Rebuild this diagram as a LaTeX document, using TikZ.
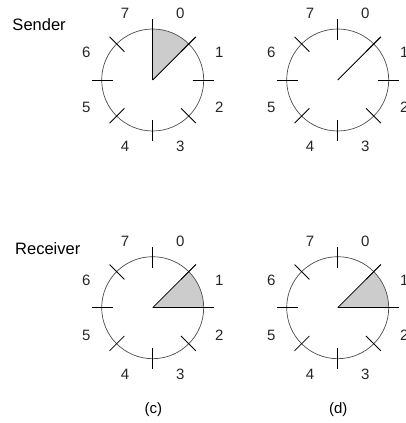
\documentclass[tikz,border=0pt]{standalone}
\usepackage{fontspec}
\setmainfont{Liberation Sans}
\usetikzlibrary{positioning}

\tikzset{
  dial/.style={draw=black!70, line width=0.7pt},
  dialtick/.style={draw=black, line width=0.8pt},
  pointer/.style={draw=black, line width=0.8pt},
  window/.style={fill=black!20},
  seqnum/.style={font=\fontsize{15}{17}\selectfont, text=black!85},
  rowlabel/.style={font=\fontsize{16.5}{19}\selectfont, anchor=west, inner sep=0pt},
  caption/.style={font=\fontsize{15}{17}\selectfont},
}

\begin{document}
\begin{tikzpicture}[x=1pt,y=1pt]
    \useasboundingbox (0,0) rectangle (406,423);
    % centres of the four dials
    \coordinate (a) at (152.7,343);
    \coordinate (b) at (337.7,343);
    \coordinate (c) at (152.7,115.3);
    \coordinate (d) at (337.7,115.3);
    % shaded windows
    \fill[window] (a) -- ++(90:51) arc (90:45:51) -- cycle;
    \fill[window] (c) -- ++(45:51) arc (45:0:51) -- cycle;
    \fill[window] (d) -- ++(45:51) arc (45:0:51) -- cycle;
    \foreach \n in {a,b,c,d} {
        \begin{scope}[shift={(\n)}]
            \draw[dial] (0,0) circle (51);
            \foreach \k in {0,...,7} {
                \draw[dialtick] (90-45*\k:40) -- (90-45*\k:61);
                \node[seqnum] (\n-\k) at (67.5-45*\k:72) {\k};
            }
        \end{scope}
    }
    % pointers
    \draw[pointer] (a) -- ++(90:61);
    \draw[pointer] (a) -- ++(45:61);
    \draw[pointer] (b) -- ++(45:61);
    \draw[pointer] (c) -- ++(45:61);
    \draw[pointer] (c) -- ++(0:61);
    \draw[pointer] (d) -- ++(45:61);
    \draw[pointer] (d) -- ++(0:61);
    % labels
    \node[rowlabel] (sender) at (12.3,398) {Sender};
    \node[rowlabel] (receiver) at (15,174.7) {Receiver};
    \node[caption] (cap-c) at (153.3,13) {(c)};
    \node[caption] (cap-d) at (338.3,13) {(d)};
\end{tikzpicture}
\end{document}
